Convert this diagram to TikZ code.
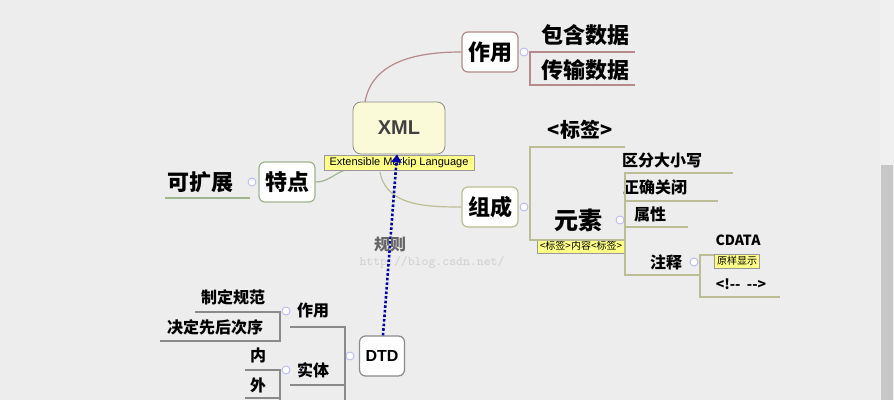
\documentclass[tikz,border=0pt]{standalone}
\usepackage{fontspec}
\setmainfont{Liberation Sans}
\newfontfamily\cjk{Noto Sans CJK SC}
\usetikzlibrary{arrows.meta}
\definecolor{bgcol}{HTML}{EDEDED}
\definecolor{redline}{HTML}{B48A8A}
\definecolor{oliveline}{HTML}{BDBD95}
\definecolor{greenline}{HTML}{9FB58E}
\definecolor{grayline}{HTML}{8A8A8A}
\definecolor{notecol}{HTML}{FFFF88}
\definecolor{xmlfill}{HTML}{FBFAD8}
\begin{document}
\begin{tikzpicture}[x=0.5pt,y=-0.5pt,
  topic/.style={draw=#1,rounded corners=3pt,fill=white,line width=0.6pt,
    minimum height=20pt,inner sep=3pt,font=\cjk\bfseries\fontsize{11}{12}\selectfont},
  leaf/.style={font=\cjk\bfseries\fontsize{#1}{12}\selectfont,inner sep=1pt},
  note/.style={fill=notecol,draw=black!40,line width=0.3pt,inner sep=1.2pt,
    font=\cjk\fontsize{5}{6}\selectfont},
  fold/.style={circle,draw=blue!30,fill=white,inner sep=0pt,minimum size=4pt}]
% background and scrollbar
\fill[bgcol] (0,0) rectangle (894,400);
\fill[black!6] (880,0) rectangle (894,400);
\fill[black!22] (881,165) rectangle (893,400);
\useasboundingbox (0,0) rectangle (894,400);
\node[text=black!18,font=\ttfamily\fontsize{6.5}{7}\selectfont] (mark) at (432,262) {http://blog.csdn.net/};

% central topic
\node[draw=black!45,rounded corners=4pt,fill=xmlfill,minimum width=46pt,minimum height=26pt,
  font=\bfseries\fontsize{10}{12}\selectfont,text=black!75] (xml) at (399,128) {XML};

% main topics
\node[topic=redline] (use) at (490,52) {作用};
\node[topic=oliveline] (part) at (490,207) {组成};
\node[topic=greenline] (feat) at (287,182) {特点};
\node[topic=grayline,font=\bfseries\fontsize{8}{10}\selectfont] (dtd) at (382,356) {DTD};

\coordinate (c1) at (365,102);
\coordinate (c2) at (380,172);
\coordinate (c3) at (345,170);
\draw[redline,line width=0.6pt] (c1) to[out=80,in=180] (use.west);
\draw[oliveline,line width=0.6pt] (c2) to[out=-80,in=180] (part.west);
\draw[greenline,line width=0.6pt] (c3) to[out=200,in=0] (feat.east);
\node[note,font=\fontsize{5.5}{6}\selectfont,minimum width=75pt] (xmlnote) at (399,163) {Extensible Markip Language};
\draw[blue!70!black,densely dotted,line width=1.3pt,-{Triangle[width=5pt,length=4pt]}] (dtd.north) ++(1,0) coordinate (c4) -- ([xshift=-1pt]xml.south);
\node[leaf=8,text=black!60] (rule) at (390,245) {规则};

% 作用 branch
\node[leaf=11] (hold) at (585,35) {包含数据};
\node[leaf=11] (move) at (585,70) {传输数据};
\draw[redline,line width=0.6pt] (635,52) -| (530,85) -- (635,85);
\node[fold] (f1) at (524,52) {};

% 组成 branch
\node[leaf=10] (tag) at (580,130) {<标签>};
\node[leaf=12] (elem) at (578,220) {元素};
\node[note] (elemnote) at (581,246) {<标签>内容<标签>};
\draw[oliveline,line width=0.6pt] (625,147) -| (530,240) -- (625,240);
\node[fold] (f2) at (524,207) {};
\node[leaf=8] (case) at (662,160) {区分大小写};
\node[leaf=8] (close) at (655,187) {正确关闭};
\node[leaf=8] (attr) at (650,214) {属性};
\node[leaf=8] (cmt) at (666,262) {注释};
\draw[oliveline,line width=0.6pt] (733,173) -| (625,275) -- (700,275)
  (625,201) -- (718,201) (625,227) -- (688,227);
\node[fold] (f3) at (620,220) {};
\node[leaf=7] (cdata) at (738,240) {CDATA};
\draw[oliveline,line width=0.6pt] (760,255) -| (700,297) -- (780,297);
\node[note] (cdnote) at (737,261) {原样显示};
\node[leaf=7] (cmtsyn) at (741,284) {<!--~~-->};
\node[fold] (f4) at (694,262) {};

% 特点 branch
\node[leaf=11] (ext) at (200,182) {可扩展};
\draw[greenline,line width=0.6pt] (165,198) -- (250,198);
\node[fold] (f5) at (252,182) {};

% DTD branch
\node[leaf=8] (duse) at (313,311) {作用};
\node[leaf=8] (ent) at (313,370) {实体};
\draw[grayline,line width=0.6pt] (290,327) -| (345,400) (290,385) -- (345,385);
\node[fold] (f6) at (350,356) {};
\node[leaf=8] (spec) at (233,297) {制定规范};
\node[leaf=8] (order) at (215,327) {决定先后次序};
\draw[grayline,line width=0.6pt] (195,312) -| (280,341) -- (160,341);
\node[fold] (f7) at (286,311) {};
\node[leaf=8] (inner) at (258,355) {内};
\node[leaf=8] (outer) at (258,385) {外};
\draw[grayline,line width=0.6pt] (245,370) -| (280,400) (280,398) -- (245,398);
\node[fold] (f8) at (286,370) {};
\end{tikzpicture}
\end{document}
